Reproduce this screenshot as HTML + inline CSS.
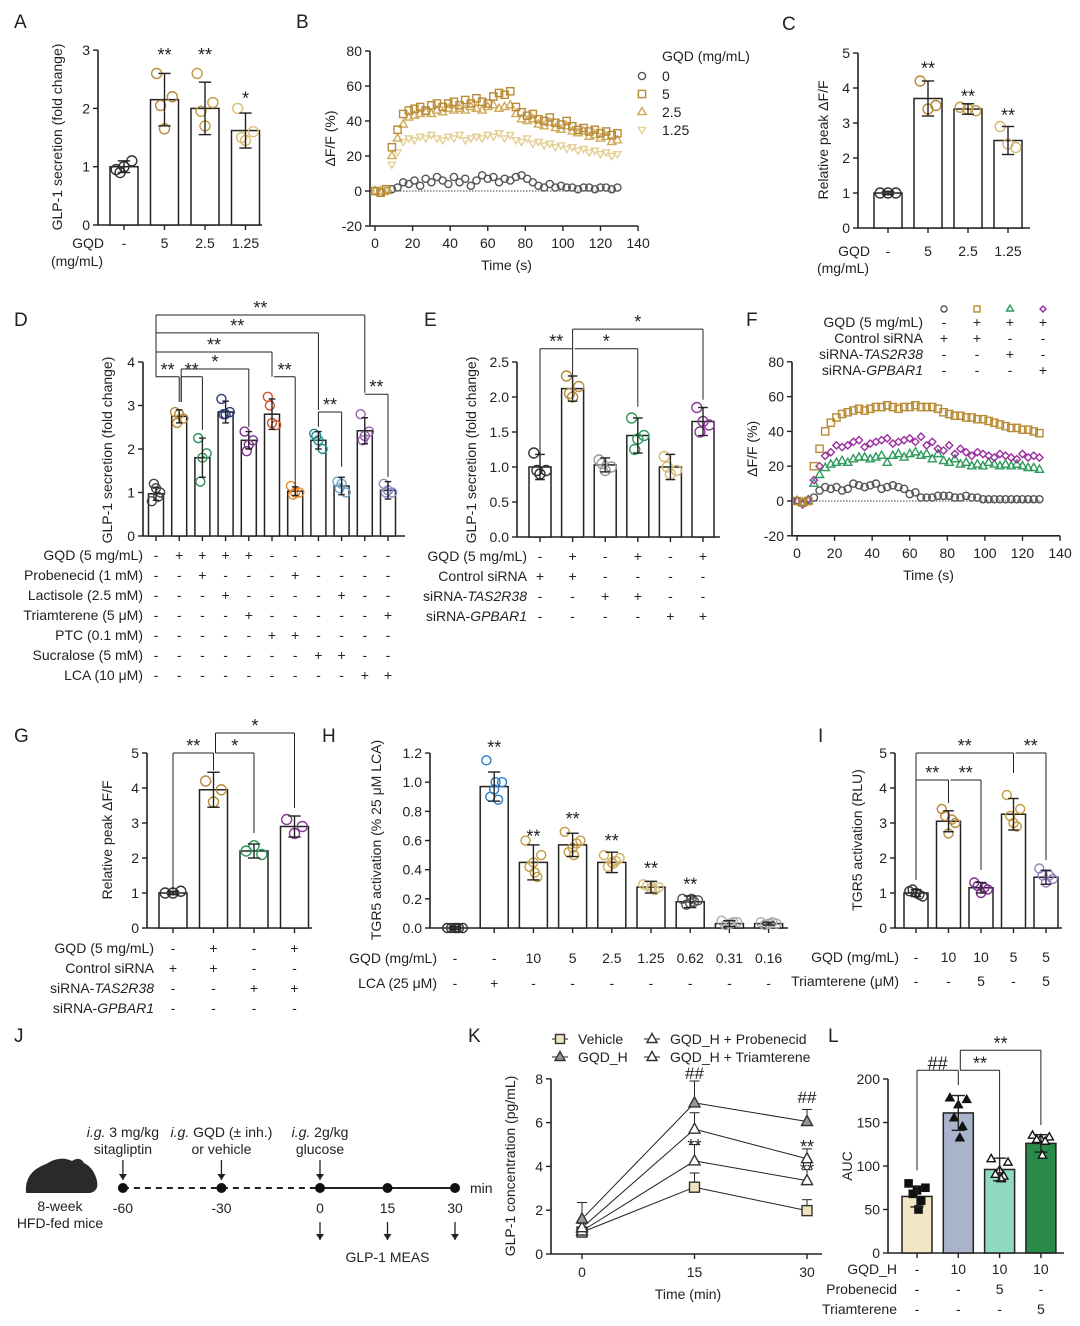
<!DOCTYPE html>
<html><head><meta charset="utf-8"><style>
html,body{margin:0;padding:0;background:#fff;}
svg{display:block;font-family:"Liberation Sans",sans-serif;}
</style></head><body>
<svg id="fig" width="1080" height="1326" viewBox="0 0 1080 1326" xmlns="http://www.w3.org/2000/svg"></svg>
<script>
// ---------- DATA ----------
const aCats=['-','5','2.5','1.25'];
const aMeans=[1,2.15,2.0,1.62];
const aSds=[0.1,0.45,0.45,0.3];
const aPts=[[0.95,1.1,1.0,0.9],[2.6,2.2,1.65,2.05],[2.6,2.1,1.7,1.95],[2.0,1.6,1.45,1.5]];
const aStars=['','**','**','*'];
const cMeans=[1,3.7,3.4,2.5];
const cSds=[0.05,0.5,0.15,0.4];
const cPts=[[1,1,1],[4.2,3.5,3.4],[3.45,3.35,3.4],[2.9,2.3,2.4]];
const cStars=['','**','**','**'];
const dMeans=[0.97,2.75,1.8,2.85,2.2,2.8,1.03,2.2,1.15,2.42,1.05];
const dSds=[0.15,0.15,0.45,0.25,0.2,0.35,0.1,0.2,0.2,0.3,0.2];
const dPts=[[0.8,1.0,1.1,1.2,0.9],[2.85,2.7,2.8,2.6],[2.25,1.9,1.8,1.25],[3.15,2.85,2.8,2.8],[2.4,2.2,2.1,1.95],[3.2,2.55,2.6,3.0],[1.15,1.0,1.0,0.95],[2.35,2.0,2.2,2.3],[1.25,1.0,1.2,1.1],[2.8,2.4,2.3,2.2],[1.2,1.0,1.05,1.0]];
const eMeans=[1.0,2.12,1.03,1.45,1.0,1.65];
const eSds=[0.18,0.18,0.1,0.25,0.18,0.2];
const ePts=[[1.2,0.95,0.9,0.95],[2.3,2.15,2.0,2.05],[1.1,1.0,0.95,1.05],[1.7,1.45,1.4,1.25],[1.15,0.95,0.9,1.0],[1.85,1.6,1.65,1.5]];
const gMeans=[1,3.95,2.2,2.9];
const gSds=[0.05,0.5,0.2,0.3];
const gPts=[[1,1.05,1],[4.2,3.95,3.6],[2.2,2.1,2.35],[3.1,2.9,2.7]];
const hCats=['-','-','10','5','2.5','1.25','0.62','0.31','0.16'];
const hMeans=[0,0.97,0.45,0.57,0.45,0.28,0.18,0.03,0.03];
const hSds=[0.01,0.1,0.12,0.08,0.07,0.04,0.04,0.02,0.01];
const hPts=[[0,0,0,0,0,0],[1.15,1.0,0.95,0.9,0.88,1.0],[0.6,0.5,0.45,0.42,0.35,0.38],[0.66,0.6,0.55,0.52,0.58,0.5],[0.5,0.48,0.45,0.42,0.46,0.44],[0.3,0.28,0.27,0.29,0.26,0.28],[0.2,0.19,0.17,0.16,0.18,0.2],[0.05,0.04,0.03,0.02,0.04,0.03],[0.04,0.03,0.03,0.02,0.04,0.03]];
const hStars=['','**','**','**','**','**','**','',''];
const iMeans=[1,3.05,1.15,3.25,1.45];
const iSds=[0.1,0.3,0.15,0.45,0.2];
const iPts=[[1.05,0.9,1.0,1.1,0.95],[3.4,3.0,2.7,3.2,3.1],[1.3,1.1,1.0,1.2,1.15],[3.8,3.4,3.0,3.2,2.9],[1.7,1.4,1.3,1.5,1.5]];
const lMeans=[65,161,96,126];
const lSds=[12,20,13,10];
const lPts=[[80,75,72,68,60,50],[178,176,170,155,145,132],[108,104,95,90,88,85],[135,133,131,130,128,112]];
const kTimes=[0,15,30];
const kVehicle=[1.0,3.05,1.98], kVehicleErr=[0.2,0.65,0.5];
const kGqd=[1.6,6.9,6.05], kGqdErr=[0.75,1.0,0.55];
const kProb=[1.05,4.25,3.35], kProbErr=[0.15,0.75,0.5];
const kTriam=[1.2,5.7,4.35], kTriamErr=[0.2,0.75,0.45];
const tsTimes=[0,3,6,9,12,15,18,21,24,27,30,33,36,39,42,45,48,51,54,57,60,63,66,69,72,75,78,81,84,87,90,93,96,99,102,105,108,111,114,117,120,123,126,129];
const b0=[0,-1,0,1,2,5,4,6,3,7,5,8,6,4,8,5,7,3,6,9,7,8,5,7,6,8,9,7,5,3,2,4,2,3,2,2,1,2,2,1,2,2,1,2];
const b5=[0,-1,1,25,35,44,46,47,48,46,49,50,48,50,51,49,52,50,53,51,50,54,56,55,57,48,45,43,44,41,40,42,39,38,40,37,35,36,34,35,33,34,32,33];
const b25=[0,0,0,20,30,38,42,43,44,45,44,46,45,47,46,47,46,48,47,46,48,49,47,48,49,44,41,40,41,38,37,39,36,35,37,34,33,34,31,32,30,31,28,29];
const b125=[0,-1,0,15,22,28,30,29,31,30,32,30,29,31,30,32,29,30,31,30,32,31,33,30,32,29,28,30,27,28,26,27,25,26,24,25,23,24,22,23,21,22,20,21];
const f0=[0,-1,0,2,6,8,7,8,6,7,10,9,8,9,10,7,8,9,8,7,4,5,2,2,2,3,3,3,2,2,3,2,2,1,1,1,1,1,1,1,1,1,1,1];
const fGqd=[0,-1,0,20,30,40,45,48,50,51,52,53,52,53,54,54,55,54,53,54,54,55,54,54,54,53,51,50,49,49,48,48,47,47,46,45,44,43,42,42,41,41,40,39];
const fTas=[0,-1,0,10,15,19,21,22,23,22,24,25,25,24,25,26,22,26,27,25,27,28,26,27,24,27,23,22,24,21,22,20,21,20,22,21,20,21,20,21,20,19,19,18];
const fGpb=[0,-2,1,12,20,26,28,32,31,32,34,35,31,33,34,35,36,33,34,35,36,34,37,32,34,30,29,32,27,30,28,26,28,27,26,25,27,26,25,24,27,25,26,25];

// ---------- HELPERS ----------
const NS='http://www.w3.org/2000/svg';
const svg=document.getElementById('fig');
const FS=14, SFS=18;
function el(tag,attrs,parent){const e=document.createElementNS(NS,tag);for(const k in attrs)e.setAttribute(k,attrs[k]);(parent||svg).appendChild(e);return e;}
function txt(x,y,s,o){o=o||{};const t=el('text',{x:x,y:y,'font-size':o.fs||FS,'text-anchor':o.a||'middle',fill:o.fill||'#222'});
 if(o.rot)t.setAttribute('transform','rotate(-90 '+x+' '+y+')');
 if(o.w)t.setAttribute('font-weight',o.w);
 t.innerHTML=s;
 
 
 return t;}
function line(x1,y1,x2,y2,o){o=o||{};const l=el('line',{x1:x1,y1:y1,x2:x2,y2:y2,stroke:o.c||'#222','stroke-width':o.w||1.3});if(o.dash)l.setAttribute('stroke-dasharray',o.dash);
 
 
 return l;}
function marker(type,x,y,col,fill,r){r=r||4;let m;
 if(type==='circle')m=el('circle',{cx:x,cy:y,r:r});
 else if(type==='square')m=el('rect',{x:x-r,y:y-r,width:2*r,height:2*r});
 else if(type==='tri')m=el('polygon',{points:`${x},${y-r-1} ${x-r-0.5},${y+r-1} ${x+r+0.5},${y+r-1}`});
 else if(type==='tridown')m=el('polygon',{points:`${x},${y+r} ${x-r},${y-r+1} ${x+r},${y-r+1}`});
 else m=el('polygon',{points:`${x},${y-r} ${x+r},${y} ${x},${y+r} ${x-r},${y}`});
 m.setAttribute('fill',fill||'none');m.setAttribute('stroke',col);m.setAttribute('stroke-width',1.4);
 
 
 return m;}
function panelLetter(x,y,s){txt(x,y,s,{fs:19,a:'start',name:'panel-letter-'+s.toLowerCase()});}

const jit=[-0.28,0.28,0,-0.14,0.14,0.05];
function barPanel(p){
 const Y=v=>p.y0-v*p.sc;
 const X=i=>p.x0+i*p.step;
 const top=Y(p.ticks[p.ticks.length-1]);
 line(p.ax,p.y0,p.ax,top,{w:1.6,name:'y-axis'});
 line(p.ax,p.y0,p.xEnd,p.y0,{w:1.6,name:'x-axis'});
 p.ticks.forEach((t,k)=>{line(p.ax-5,Y(t),p.ax,Y(t),{w:1.4,name:'y-tick'});txt(p.ax-8,Y(t)+5,p.tickLabels[k],{a:'end',name:'y-tick-label'});});
 p.means.forEach((m,i)=>{
  const x=X(i);
  line(x,p.y0,x,p.y0+5,{w:1.4,name:'x-tick'});
  const r=el('rect',{x:x-p.w/2,y:Y(m),width:p.w,height:m*p.sc,fill:p.fills?p.fills[i]:'#fff',stroke:'#222','stroke-width':1.5});
  
  
 });
 p.means.forEach((m,i)=>{
  const x=X(i);
  p.pts[i].forEach((v,k)=>{
   const px=x+jit[k%jit.length]*p.w;
   if(p.mk) marker(p.mk[i],px,Y(v),'#111',p.mkFill[i],3.6);
   else marker('circle',px,Y(v),p.colors[i],'none',p.r||5);
  });
  const s=p.sds[i];
  line(x,Y(m-s),x,Y(m+s),{w:1.4,name:'error-bar'});
  line(x-p.w*0.22,Y(m+s),x+p.w*0.22,Y(m+s),{w:1.4,name:'error-cap'});
  line(x-p.w*0.22,Y(m-s),x+p.w*0.22,Y(m-s),{w:1.4,name:'error-cap'});
 });
 if(p.stars)p.stars.forEach((s,i)=>{if(s)txt(X(i),Y(p.starV[i])+2,s,{fs:SFS,name:'significance-stars'});});
 if(p.brackets)p.brackets.forEach(b=>{
  const x1=X(b[0])+(b[6]||0),x2=X(b[1]),yt=Y(b[2]);
  line(x1,yt,x2,yt,{w:1,name:'bracket'});
  line(x1,yt,x1,Y(b[3]),{w:1,name:'bracket'});
  line(x2,yt,x2,Y(b[4]),{w:1,name:'bracket'});
  txt((x1+x2)/2,yt-1,b[5],{fs:SFS,name:'bracket-stars'});
 });
 return {X:X,Y:Y};
}
function table(xr,X,rows,names,vals,n,fs){
 rows.forEach((ry,r)=>{
  txt(xr,ry,names[r],{a:'end',fs:fs||FS,name:'row-label'});
  for(let i=0;i<n;i++) txt(X(i),ry,vals[r][i],{fs:fs||FS,name:'row-value'});
 });
}
function tsPanel(p){
 const X=t=>p.x0+t*p.xs, Y=v=>p.y0-v*p.ys;
 line(p.x0-5,Y(-20),p.x0-5,Y(80),{w:1.6,name:'y-axis'});
 line(p.x0-5,Y(-20),X(140),Y(-20),{w:1.6,name:'x-axis'});
 [-20,0,20,40,60,80].forEach(t=>{line(p.x0-10,Y(t),p.x0-5,Y(t),{w:1.4,name:'y-tick'});txt(p.x0-13,Y(t)+5,String(t),{a:'end',name:'y-tick-label'});});
 [0,20,40,60,80,100,120,140].forEach(t=>{line(X(t),Y(-20),X(t),Y(-20)+5,{w:1.4,name:'x-tick'});txt(X(t),Y(-20)+22,String(t),{name:'x-tick-label'});});
 line(p.x0-5,Y(0),X(130),Y(0),{w:1,dash:'1.5,1.5',c:'#444',name:'zero-line'});
 p.series.forEach(s=>{s.data.forEach((v,i)=>marker(s.mk,X(tsTimes[i]),Y(v),s.col,'none',3.6));});
 txt((p.x0+X(140))/2,Y(-20)+44,'Time (s)',{name:'x-axis-title'});
 txt(p.x0-40,Y(30),'ΔF/F (%)',{rot:1,name:'y-axis-title'});
}

// ---------- PANEL A ----------
panelLetter(14,28,'A');
const A=barPanel({ax:98,x0:124,step:40.5,w:28,y0:225,sc:58.3,xEnd:262,ticks:[0,1,2,3],tickLabels:['0','1','2','3'],means:aMeans,sds:aSds,pts:aPts,colors:['#333','#b8893a','#c49a45','#dcbd78'],stars:aStars,starV:[0,2.85,2.85,2.1]});
txt(62,137,'GLP-1 secretion (fold change)',{rot:1,name:'y-axis-title'});
txt(104,248,'GQD',{a:'end',name:'row-label'});
txt(77,266,'(mg/mL)',{name:'row-label'});
aCats.forEach((c,i)=>txt(A.X(i),248,c,{name:'x-tick-label'}));

// ---------- PANEL B ----------
panelLetter(296,28,'B');
tsPanel({x0:375,xs:1.879,y0:191,ys:1.75,series:[{data:b0,mk:'circle',col:'#555'},{data:b125,mk:'tridown',col:'#e6cf96'},{data:b25,mk:'tri',col:'#d0a95a'},{data:b5,mk:'square',col:'#b88a35'}]});
txt(662,61,'GQD (mg/mL)',{a:'start',name:'legend-title'});
[['circle','#555','0'],['square','#b88a35','5'],['tri','#d0a95a','2.5'],['tridown','#e6cf96','1.25']].forEach((l,k)=>{marker(l[0],642,76+k*18,l[1],'none',3.6);txt(662,81+k*18,l[2],{a:'start',name:'legend-entry'});});

// ---------- PANEL C ----------
panelLetter(782,30,'C');
const C=barPanel({ax:858,x0:888,step:40,w:28,y0:228,sc:35,xEnd:1030,ticks:[0,1,2,3,4,5],tickLabels:['0','1','2','3','4','5'],means:cMeans,sds:cSds,pts:cPts,colors:['#333','#b8893a','#c49a45','#d8b772'],stars:cStars,starV:[0,4.45,3.65,3.1]});
txt(828,140,'Relative peak ΔF/F',{rot:1,name:'y-axis-title'});
txt(870,256,'GQD',{a:'end',name:'row-label'});
txt(843,273,'(mg/mL)',{name:'row-label'});
aCats.forEach((c,i)=>txt(C.X(i),256,c,{name:'x-tick-label'}));

// ---------- PANEL D ----------
panelLetter(14,326,'D');
const D=barPanel({ax:143,x0:156,step:23.2,w:15,y0:536,sc:43.5,xEnd:405,ticks:[0,1,2,3,4],tickLabels:['0','1','2','3','4'],means:dMeans,sds:dSds,pts:dPts,r:4.5,
 colors:['#444','#b8862f','#2e8b57','#2b3a7a','#7b2d8e','#d0502a','#e8892e','#1f8f8a','#6fa8c8','#9b5fb0','#8a8fc8'],
 brackets:[[0,9,5.08,3.66,3.29,'**'],[0,7,4.67,3.66,2.9,'**'],[0,5,4.23,3.66,3.66,'**'],[1,4,3.84,3.08,2.51,'*',2],[0,1,3.66,3.66,3.08,'**'],[1,2,3.66,3.08,2.44,'**',2],[5,6,3.66,3.66,1.13,'**',2],[7,8,2.85,2.51,1.59,'**'],[9,10,3.26,3.26,1.36,'**']]});
txt(112,450,'GLP-1 secretion (fold change)',{rot:1,name:'y-axis-title'});
table(143,D.X,[560,580,600,620,640,660,680],['GQD (5 mg/mL)','Probenecid (1 mM)','Lactisole (2.5 mM)','Triamterene (5 μM)','PTC (0.1 mM)','Sucralose (5 mM)','LCA (10 μM)'],
 [['-','+','+','+','+','-','-','-','-','-','-'],['-','-','+','-','-','-','+','-','-','-','-'],['-','-','-','+','-','-','-','-','+','-','-'],['-','-','-','-','+','-','-','-','-','-','+'],['-','-','-','-','-','+','+','-','-','-','-'],['-','-','-','-','-','-','-','+','+','-','-'],['-','-','-','-','-','-','-','-','-','+','+']],11);

// ---------- PANEL E ----------
panelLetter(424,326,'E');
const E=barPanel({ax:517,x0:540,step:32.6,w:22,y0:537,sc:70,xEnd:720,ticks:[0,0.5,1,1.5,2,2.5],tickLabels:['0.0','0.5','1.0','1.5','2.0','2.5'],means:eMeans,sds:eSds,pts:ePts,
 colors:['#333','#b8893a','#999','#2e9b5b','#d7bb78','#8a3b97'],
 brackets:[[0,1,2.69,1.17,2.31,'**'],[1,5,2.97,2.69,1.96,'*'],[1,3,2.69,2.69,1.86,'*',2]]});
txt(476,450,'GLP-1 secretion (fold change)',{rot:1,name:'y-axis-title'});
table(527,E.X,[561,581,601,621],['GQD (5 mg/mL)','Control siRNA','siRNA-<tspan font-style="italic">TAS2R38</tspan>','siRNA-<tspan font-style="italic">GPBAR1</tspan>'],
 [['-','+','-','+','-','+'],['+','+','-','-','-','-'],['-','-','+','+','-','-'],['-','-','-','-','+','+']],6);

// ---------- PANEL F ----------
panelLetter(746,326,'F');
tsPanel({x0:797,xs:1.879,y0:501,ys:1.74,series:[{data:f0,mk:'circle',col:'#555'},{data:fTas,mk:'tri',col:'#2e9b5b'},{data:fGpb,mk:'diamond',col:'#9b2fa0'},{data:fGqd,mk:'square',col:'#b88a35'}]});
const fx=[944,977,1010,1043];
[['circle','#555'],['square','#b88a35'],['tri','#2e9b5b'],['diamond','#9b2fa0']].forEach((m,i)=>marker(m[0],fx[i],309,m[1],'none',3));
[['GQD (5 mg/mL)',['-','+','+','+']],['Control siRNA',['+','+','-','-']],['siRNA-<tspan font-style="italic">TAS2R38</tspan>',['-','-','+','-']],['siRNA-<tspan font-style="italic">GPBAR1</tspan>',['-','-','-','+']]].forEach((r,k)=>{
 txt(923,327+k*16,r[0],{a:'end',name:'legend-row-label'});r[1].forEach((v,i)=>txt(fx[i],327+k*16,v,{name:'legend-row-value'}));});

// ---------- PANEL G ----------
panelLetter(14,742,'G');
const G=barPanel({ax:147,x0:173,step:40.5,w:28,y0:928,sc:35,xEnd:312,ticks:[0,1,2,3,4,5],tickLabels:['0','1','2','3','4','5'],means:gMeans,sds:gSds,pts:gPts,
 colors:['#333','#b8893a','#2e9b5b','#8a3b97'],
 brackets:[[0,1,5.0,1.09,4.5,'**'],[1,3,5.57,5.0,3.43,'*',2],[1,2,5.0,5.0,2.71,'*',2]]});
txt(112,840,'Relative peak ΔF/F',{rot:1,name:'y-axis-title'});
table(154,G.X,[953,973,993,1013],['GQD (5 mg/mL)','Control siRNA','siRNA-<tspan font-style="italic">TAS2R38</tspan>','siRNA-<tspan font-style="italic">GPBAR1</tspan>'],
 [['-','+','-','+'],['+','+','-','-'],['-','-','+','+'],['-','-','-','-']],4);

// ---------- PANEL H ----------
panelLetter(322,742,'H');
const H=barPanel({ax:430,x0:455,step:39.2,w:28,y0:928,sc:145.8,xEnd:788,ticks:[0,0.2,0.4,0.6,0.8,1,1.2],tickLabels:['0.0','0.2','0.4','0.6','0.8','1.0','1.2'],means:hMeans,sds:hSds,pts:hPts,r:4.5,
 colors:['#333','#2a7cc7','#c59a40','#c59a40','#d3ad5c','#d8bd80','#555','#aaa','#aaa'],stars:hStars,starV:[0,1.21,0.6,0.72,0.57,0.38,0.27,0,0]});
txt(381,840,'TGR5 activation (% 25 μM LCA)',{rot:1,name:'y-axis-title'});
table(437,H.X,[963,988],['GQD (mg/mL)','LCA (25 μM)'],[hCats,['-','+','-','-','-','-','-','-','-']],9);

// ---------- PANEL I ----------
panelLetter(818,742,'I');
const I=barPanel({ax:895,x0:916,step:32.5,w:24,y0:928,sc:35,xEnd:1062,ticks:[0,1,2,3,4,5],tickLabels:['0','1','2','3','4','5'],means:iMeans,sds:iSds,pts:iPts,r:4.5,
 colors:['#333','#b8893a','#7b2d8e','#c59a40','#9a7fc0'],
 brackets:[[0,3,5.0,1.37,4.43,'**'],[3,4,5.0,5.0,1.94,'**',2],[0,1,4.23,4.23,3.57,'**'],[1,2,4.23,4.23,1.66,'**',2]]});
txt(862,840,'TGR5 activation (RLU)',{rot:1,name:'y-axis-title'});
table(899,I.X,[962,986],['GQD (mg/mL)','Triamterene (μM)'],[['-','10','10','5','5'],['-','-','5','-','5']],5);

// ---------- PANEL J ----------
panelLetter(14,1042,'J');
const mouse=el('path',{d:'M26 1193 Q24 1172 46 1164 Q60 1155 72 1161 Q80 1156 84 1163 Q94 1168 97 1181 Q99 1191 90 1193 Z',fill:'#2a2a2a'});


txt(60,1211,'8-week',{name:'mouse-label'});txt(60,1228,'HFD-fed mice',{name:'mouse-label'});
const jT=[-60,-30,0,15,30];
const jX=t=>320+t*(135/30)*(t<0?0.73:1);
line(jX(-60),1188,jX(0),1188,{w:2,dash:'6,5',name:'timeline-dashed'});
line(jX(0),1188,jX(30),1188,{w:2,name:'timeline-solid'});
jT.forEach(t=>{const c=el('circle',{cx:jX(t),cy:1188,r:5,fill:'#111'});txt(jX(t),1213,String(t),{name:'timepoint-label'});});
txt(470,1193,'min',{a:'start',name:'unit-label'});
function arrow(x,y1,y2){line(x,y1,x,y2,{w:1.3,name:'arrow'});const h=el('polygon',{points:`${x-4},${y2-6} ${x+4},${y2-6} ${x},${y2}`,fill:'#222'});}
[[-60,'<tspan font-style="italic">i.g.</tspan> 3 mg/kg','sitagliptin'],[-30,'<tspan font-style="italic">i.g.</tspan> GQD (± inh.)','or vehicle'],[0,'<tspan font-style="italic">i.g.</tspan> 2g/kg','glucose']].forEach(a=>{
 txt(jX(a[0]),1137,a[1],{name:'dose-label'});txt(jX(a[0]),1154,a[2],{name:'dose-label'});
 arrow(jX(a[0]),1160,1180);});
[0,15,30].forEach(t=>arrow(jX(t),1222,1240));
txt(jX(15),1262,'GLP-1 MEAS',{name:'measurement-label'});

// ---------- PANEL K ----------
panelLetter(468,1042,'K');
const KX=t=>582+t*(225/30), KY=v=>1254-v*21.9;
line(551,1254,551,KY(8),{w:1.6,name:'y-axis'});line(551,1254,822,1254,{w:1.6,name:'x-axis'});
[0,2,4,6,8].forEach(t=>{line(546,KY(t),551,KY(t),{w:1.4,name:'y-tick'});txt(543,KY(t)+5,String(t),{a:'end',name:'y-tick-label'});});
kTimes.forEach(t=>{line(KX(t),1254,KX(t),1259,{w:1.4,name:'x-tick'});txt(KX(t),1277,String(t),{name:'x-tick-label'});});
txt(688,1299,'Time (min)',{name:'x-axis-title'});
txt(515,1166,'GLP-1 concentration (pg/mL)',{rot:1,name:'y-axis-title'});
[[kVehicle,kVehicleErr,'square','#efe3c0'],[kProb,kProbErr,'tri','#fff'],[kTriam,kTriamErr,'tri','#fff'],[kGqd,kGqdErr,'tri','#999']].forEach(s=>{
 for(let i=1;i<3;i++)line(KX(kTimes[i-1]),KY(s[0][i-1]),KX(kTimes[i]),KY(s[0][i]),{w:1,name:'series-line'});
 s[0].forEach((v,i)=>{const x=KX(kTimes[i]);line(x,KY(v),x,KY(v+s[1][i]),{w:1,name:'error-bar'});line(x-5,KY(v+s[1][i]),x+5,KY(v+s[1][i]),{w:1,name:'error-cap'});marker(s[2],x,KY(v),'#333',s[3],5);});
});
txt(KX(15),1079,'##',{fs:17,name:'significance'});txt(KX(30),1103,'##',{fs:17,name:'significance'});
txt(KX(15),1152,'**',{fs:SFS,name:'significance'});txt(KX(30),1153,'**',{fs:SFS,name:'significance'});txt(KX(30),1176,'**',{fs:SFS,name:'significance'});
[['square','#efe3c0','Vehicle',560,1044],['tri','#999','GQD_H',560,1062],['tri','#fff','GQD_H + Probenecid',652,1044],['tri','#fff','GQD_H + Triamterene',652,1062]].forEach(l=>{
 line(l[3]-8,l[4]-5,l[3]+8,l[4]-5,{w:1,name:'legend-line'});marker(l[0],l[3],l[4]-5,'#333',l[1],4.5);txt(l[3]+18,l[4],l[2],{a:'start',name:'legend-entry'});});

// ---------- PANEL L ----------
panelLetter(828,1042,'L');
const L=barPanel({ax:888,x0:917,step:41.3,w:30,y0:1253,sc:0.87,xEnd:1064,ticks:[0,50,100,150,200],tickLabels:['0','50','100','150','200'],means:lMeans,sds:lSds,pts:lPts,
 fills:['#f3e6c4','#aab3cc','#8fd9bf','#2a8a4a'],mk:['square','tri','tri','tri'],mkFill:['#111','#111','#fff','#fff'],
 brackets:[[0,1,210,95,193,'##'],[1,3,233,210,147,'**',2],[1,2,210,210,98,'**',2]]});
txt(852,1166,'AUC',{rot:1,name:'y-axis-title'});
table(897,L.X,[1274,1294,1314],['GQD_H','Probenecid','Triamterene'],[['-','10','10','10'],['-','-','5','-'],['-','-','-','5']],4);
</script>
</body></html>
